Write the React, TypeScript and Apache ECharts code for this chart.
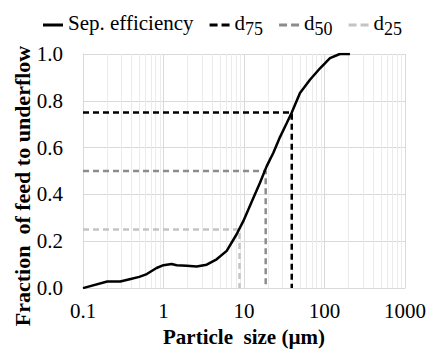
import React, { useEffect, useRef } from "react";
import * as echarts from "echarts";

const sizes = [0.1, 0.2, 0.29, 0.38, 0.5, 0.62, 0.82, 1.0, 1.26, 1.46, 1.94, 2.58, 3.44, 4.57, 6.1, 8.1, 9.8, 13.1, 15.8, 19.1, 21, 23.1, 28, 34, 39.2, 49.6, 66, 88, 117, 155, 207];
const efficiency = [0.0, 0.028, 0.028, 0.038, 0.048, 0.06, 0.086, 0.098, 0.103, 0.098, 0.095, 0.092, 0.1, 0.123, 0.159, 0.23, 0.286, 0.386, 0.45, 0.52, 0.549, 0.577, 0.645, 0.705, 0.75, 0.833, 0.89, 0.939, 0.982, 1.0, 1.0];

const dNames = ["d75", "d50", "d25"];
const dFractions = [0.75, 0.5, 0.25];
const dSizes = [39.2, 18.6, 8.8];
const dColors = ["#000000", "#8c8c8c", "#c4c4c4"];

const minorGridValues = [0.2, 0.3, 0.4, 0.5, 0.6, 0.7, 0.8, 0.9, 2, 3, 4, 5, 6, 7, 8, 9, 20, 30, 40, 50, 60, 70, 80, 90, 200, 300, 400, 500, 600, 700, 800, 900];

const FONT = "Liberation Serif, Times New Roman, serif";
const SOLID_ICON = "path://M0,0h20v3h-20z";
const DASH_ICON = "path://M0,0h8v3h-8z M12,0h8v3h-8z";

export default function App() {
  const ref = useRef<HTMLDivElement>(null);
  useEffect(() => {
    document.body.style.margin = "0";
    if (!ref.current) return;
    const chart = echarts.init(ref.current, undefined, { renderer: "svg" });
    const curve = sizes.map((s, i) => [s, efficiency[i]]);
    const dSeries = dNames.map((n, i) => ({
      name: n,
      type: "line",
      symbol: "none",
      silent: true,
      z: 3,
      lineStyle: { color: dColors[i], width: 2.5, type: [6, 4] },
      itemStyle: { color: dColors[i] },
      data: [
        [0.1, dFractions[i]],
        [dSizes[i], dFractions[i]],
        [dSizes[i], 0],
      ],
    }));
    chart.setOption({
      animation: false,
      textStyle: { fontFamily: FONT },
      legend: {
        left: 43,
        top: 12,
        padding: 0,
        itemGap: 16,
        itemWidth: 20,
        itemHeight: 3,
        data: [
          { name: "Sep. efficiency", icon: SOLID_ICON },
          ...dNames.map((n) => ({ name: n, icon: DASH_ICON })),
        ],
        formatter: (name: string) =>
          name === "Sep. efficiency" ? `{base|${name}}` : `{base|d}{sub|${name.slice(1)}}`,
        textStyle: {
          fontFamily: FONT,
          color: "#000",
          rich: {
            base: { fontFamily: FONT, fontSize: 21, lineHeight: 26, verticalAlign: "top", color: "#000" },
            sub: { fontFamily: FONT, fontSize: 18, lineHeight: 16, verticalAlign: "bottom", color: "#000" },
          },
        },
      },
      grid: { left: 83, right: 25, top: 54, bottom: 63, containLabel: false },
      xAxis: {
        type: "log",
        logBase: 10,
        min: 0.1,
        max: 1000,
        name: "Particle  size (µm)",
        nameLocation: "middle",
        nameGap: 36,
        nameTextStyle: { fontFamily: FONT, fontSize: 21, fontWeight: "bold", color: "#000" },
        axisLine: { show: true, lineStyle: { color: "#d9d9d9", width: 1 } },
        axisTick: { show: false },
        axisLabel: {
          fontFamily: FONT,
          fontSize: 21,
          color: "#000",
          margin: 12,
          formatter: (v: number) => String(v),
        },
        splitLine: { show: true, lineStyle: { color: "#d9d9d9", width: 1 } },
      },
      yAxis: {
        type: "value",
        min: 0,
        max: 1,
        interval: 0.2,
        axisLine: { show: true, lineStyle: { color: "#d9d9d9", width: 1 } },
        axisTick: { show: false },
        axisLabel: {
          fontFamily: FONT,
          fontSize: 21,
          color: "#000",
          margin: 20,
          formatter: (v: number) => v.toFixed(1),
        },
        splitLine: { show: true, lineStyle: { color: "#d9d9d9", width: 1 } },
      },
      graphic: [
        {
          type: "text",
          x: 22,
          y: 186,
          rotation: Math.PI / 2,
          style: {
            text: "Fraction  of feed to underflow",
            fontFamily: FONT,
            fontSize: 22,
            fontWeight: "bold",
            fill: "#000",
            align: "center",
            verticalAlign: "middle",
          },
        },
      ],
      series: [
        {
          name: "Sep. efficiency",
          type: "line",
          symbol: "none",
          z: 4,
          lineStyle: { color: "#000", width: 2.5 },
          itemStyle: { color: "#000" },
          data: curve,
          markLine: {
            silent: true,
            symbol: ["none", "none"],
            label: { show: false },
            lineStyle: { color: "#ebebeb", width: 1, type: "solid" },
            z: 1,
            data: minorGridValues.map((v) => ({ xAxis: v })),
          },
        },
        ...dSeries,
      ],
    });
    return () => chart.dispose();
  }, []);
  return <div ref={ref} style={{ width: 430, height: 352 }} />;
}
